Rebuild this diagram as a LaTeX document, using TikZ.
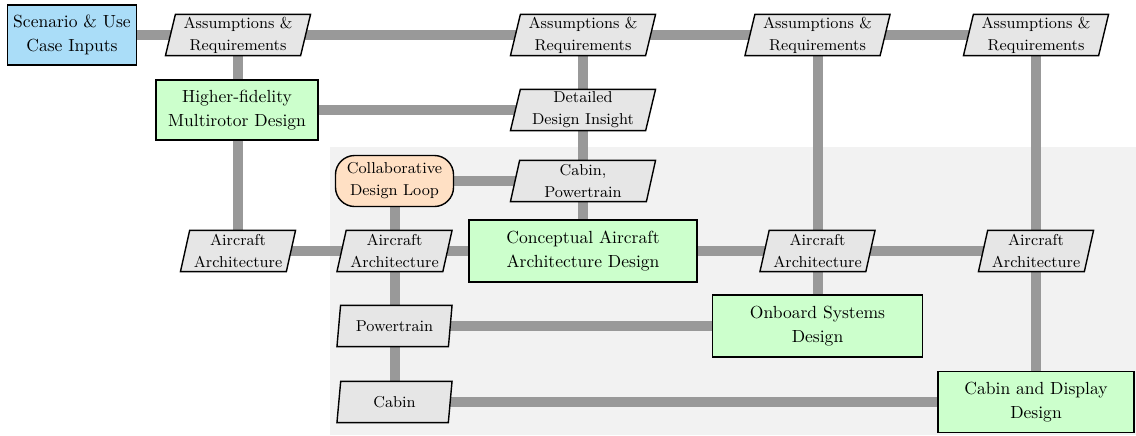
\documentclass[tikz,border=0pt]{standalone}
\usetikzlibrary{shapes.geometric}
\pgfdeclarelayer{bglayer}
\pgfdeclarelayer{linelayer}
\pgfsetlayers{bglayer,linelayer,main}
\definecolor{inblue}{HTML}{AADDF8}
\definecolor{fngreen}{HTML}{CCFFCC}
\definecolor{dtgrey}{HTML}{E6E6E6}
\definecolor{lpfill}{HTML}{FFE0C4}
\definecolor{bgarea}{HTML}{F2F2F2}
\definecolor{conn}{HTML}{999999}
\tikzset{
  boxbase/.style={draw=black, line width=0.8pt, align=center, inner sep=1pt},
  inbox/.style={boxbase, fill=inblue, rectangle, font=\fontsize{10}{13.5}\selectfont},
  fnbox/.style={boxbase, fill=fngreen, rectangle, font=\fontsize{10}{13.5}\selectfont},
  loopbox/.style={boxbase, fill=lpfill, rectangle, rounded corners=11pt, font=\fontsize{9}{12.5}\selectfont},
  databox/.style={boxbase, fill=dtgrey, trapezium, trapezium left angle=76,
     trapezium right angle=104, trapezium stretches body, font=\fontsize{9}{12.5}\selectfont, minimum height=23.5pt},
  wide/.style={minimum width=82.7pt},
  narrow/.style={minimum width=65.6pt},
  link/.style={draw=conn, line width=5.7pt},
}
\begin{document}
\begin{tikzpicture}[x=0.57pt,y=-0.57pt]
\useasboundingbox (0,0) rectangle (1136,435);
\begin{pgfonlayer}{bglayer}
\fill[bgarea] (330,147) rectangle (1136,435);
\end{pgfonlayer}
% nodes
\node[inbox, minimum width=73.5pt, minimum height=34.2pt] (scen) at (72,35) {Scenario \& Use\\Case Inputs};
\node[databox, wide] (as1) at (238,35) {Assumptions \&\\Requirements};
\node[databox, wide] (as2) at (583,35) {Assumptions \&\\Requirements};
\node[databox, wide] (as3) at (817.5,35) {Assumptions \&\\Requirements};
\node[databox, wide] (as4) at (1036,35) {Assumptions \&\\Requirements};
\node[fnbox, minimum width=92.3pt, minimum height=34.2pt] (hifi) at (237,110) {Higher-fidelity\\Multirotor Design};
\node[databox, wide] (ddi) at (583,110) {Detailed\\Design Insight};
\node[loopbox, minimum width=67.3pt, minimum height=29.1pt] (loop) at (394.5,181) {Collaborative\\Design Loop};
\node[databox, wide] (cp) at (583,181) {Cabin,\\Powertrain};
\node[databox, narrow] (aa1) at (238,251) {Aircraft\\Architecture};
\node[databox, narrow] (aa2) at (394.5,251) {Aircraft\\Architecture};
\node[fnbox, minimum width=130pt, minimum height=35.3pt] (cad) at (583,251) {Conceptual Aircraft\\Architecture Design};
\node[databox, narrow] (aa3) at (817.5,251) {Aircraft\\Architecture};
\node[databox, narrow] (aa4) at (1036,251) {Aircraft\\Architecture};
\node[fnbox, minimum width=119.7pt, minimum height=35.3pt] (osd) at (817.5,326) {Onboard Systems\\Design};
\node[databox, narrow] (pt) at (394.5,326) {Powertrain};
\node[databox, narrow] (cab) at (394.5,402) {Cabin};
\node[fnbox, minimum width=111.7pt, minimum height=34.8pt] (cdd) at (1036,402) {Cabin and Display\\Design};
% connectors
\begin{pgfonlayer}{linelayer}
\draw[link] (scen.center) -- (as4.center);
\draw[link] (as1.center) -- (aa1.center);
\draw[link] (hifi.center) -- (ddi.center);
\draw[link] (as2.center) -- (cad.center);
\draw[link] (loop.center) -- (cp.center);
\draw[link] (loop.center) -- (cab.center);
\draw[link] (aa1.center) -- (aa4.center);
\draw[link] (as3.center) -- (osd.center);
\draw[link] (as4.center) -- (cdd.center);
\draw[link] (pt.center) -- (osd.center);
\draw[link] (cab.center) -- (cdd.center);
\end{pgfonlayer}
\end{tikzpicture}
\end{document}
